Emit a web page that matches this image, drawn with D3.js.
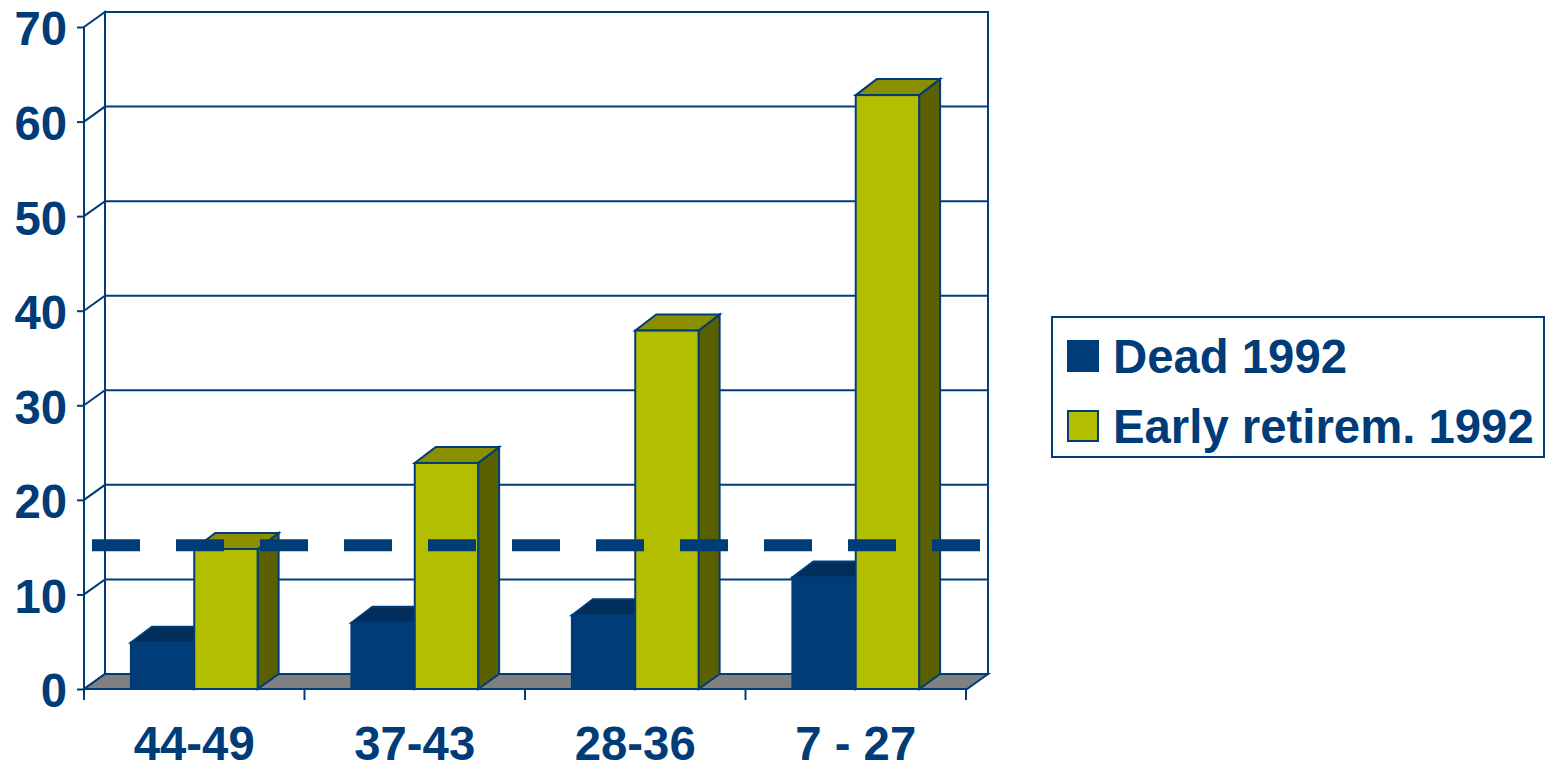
<!DOCTYPE html>
<html lang="en">
<head>
    <meta charset="UTF-8">
    <title>Dead and early retirement 1992</title>
    <script src="https://d3js.org/d3.v7.min.js"></script>
    <style>
        html, body { margin: 0; background: #fff; overflow: hidden; }
        svg { display: block; }
        text { font-family: "Liberation Sans", Arial, sans-serif; font-weight: bold; fill: #003c78; }
        .axis path, .axis line { stroke: #003c78; stroke-width: 2px; }
    </style>
</head>
<body>
    <svg></svg>
    <script>
        const categories = ["44-49", "37-43", "28-36", "7 - 27"];
        const seriesNames = ["Dead 1992", "Early retirem. 1992"];
        const dead = [4.9, 7.0, 7.8, 11.8];
        const early = [14.8, 23.9, 37.9, 62.8];
        const yTicks = [0, 10, 20, 30, 40, 50, 60, 70];
        const refValue = 15.2;

        const width = 1552, height = 765;
        const navy = "#003c78";
        const depthX = 21, depthY = 15, barDepthY = 16;
        const plotLeft = 84, plotRight = 966, plotBottom = 689, plotTop = 27;
        const fontSize = "47.3px";

        const svg = d3.select("svg").attr("width", width).attr("height", height);

        const x0 = d3.scaleBand().domain(categories).range([plotLeft, plotRight]);
        const x1 = d3.scaleBand().domain(seriesNames).range([0, x0.bandwidth()]).paddingInner(0).paddingOuter(0.74);
        const y = d3.scaleLinear().domain([0, 70]).range([plotBottom, plotTop]);

        // back wall and side wall
        svg.append("path")
            .attr("d", `M${plotLeft},${y(0)}L${plotLeft},${y(70)}L${plotLeft + depthX},${y(70) - depthY}L${plotLeft + depthX},${y(0) - depthY}Z`)
            .attr("fill", "#fff").attr("stroke", navy).attr("stroke-width", 2);
        svg.append("rect")
            .attr("x", plotLeft + depthX).attr("y", y(70) - depthY)
            .attr("width", plotRight - plotLeft + 1).attr("height", y(0) - y(70))
            .attr("fill", "#fff").attr("stroke", navy).attr("stroke-width", 2);

        // gridlines run along the side wall then the back wall
        svg.append("g").selectAll("path").data(yTicks.slice(1, -1)).join("path")
            .attr("d", d => `M${plotLeft},${y(d)}L${plotLeft + depthX},${y(d) - depthY}L${plotRight + depthX + 1},${y(d) - depthY}`)
            .attr("fill", "none").attr("stroke", navy).attr("stroke-width", 2);

        // floor
        svg.append("path")
            .attr("d", `M${plotLeft},${y(0)}L${plotLeft + depthX},${y(0) - depthY}L${plotRight + depthX + 1},${y(0) - depthY}L${plotRight + 1},${y(0)}Z`)
            .attr("fill", "#808080").attr("stroke", navy).attr("stroke-width", 2);

        // axes
        const yAxis = d3.axisLeft(y).tickValues(yTicks).tickSize(7).tickPadding(10);
        svg.append("g").attr("class", "axis").attr("transform", `translate(${plotLeft},0)`).call(yAxis)
            .call(g => g.select(".domain").attr("d", `M0,${y(70)}V${y(0)}`))
            .selectAll("text").style("font-size", fontSize).attr("dy", "0.38em");

        const xAxis = d3.axisBottom(x0).tickSize(0).tickPadding(37);
        const xg = svg.append("g").attr("class", "axis").attr("transform", `translate(0,${plotBottom})`).call(xAxis);
        xg.select(".domain").attr("d", `M${plotLeft},0H${plotRight}`);
        xg.selectAll("text").style("font-size", fontSize);
        xg.append("g").selectAll("line").data(categories.concat("end")).join("line")
            .attr("x1", d => d === "end" ? plotRight : x0(d))
            .attr("x2", d => d === "end" ? plotRight : x0(d))
            .attr("y1", 0).attr("y2", 11);

        // 3D bars, back to front
        const colors = [
            { front: navy, top: "#002d5a", side: "#002d5a" },
            { front: "#b4be00", top: "#8a8f00", side: "#5a5f00" }
        ];
        const barData = [];
        categories.forEach((c, i) => {
            barData.push({ cat: c, s: 0, v: dead[i] });
            barData.push({ cat: c, s: 1, v: early[i] });
        });
        const bars = svg.append("g").selectAll("g").data(barData).join("g");
        const bx = d => x0(d.cat) + x1(seriesNames[d.s]);
        const bw = x1.bandwidth();

        bars.append("path") // side
            .attr("d", d => `M${bx(d) + bw},${y(d.v)}l${depthX},${-barDepthY}V${y(0) - depthY}l${-depthX},${depthY}Z`)
            .attr("fill", d => colors[d.s].side).attr("stroke", navy).attr("stroke-width", 2);
        bars.append("path") // top
            .attr("d", d => `M${bx(d)},${y(d.v)}l${depthX},${-barDepthY}h${bw}l${-depthX},${barDepthY}Z`)
            .attr("fill", d => colors[d.s].top).attr("stroke", navy).attr("stroke-width", 2);
        bars.append("rect") // front
            .attr("x", bx).attr("y", d => y(d.v))
            .attr("width", bw).attr("height", d => y(0) - y(d.v))
            .attr("fill", d => colors[d.s].front).attr("stroke", navy).attr("stroke-width", 2);

        // dashed reference line
        svg.append("line")
            .attr("x1", 92).attr("x2", 980)
            .attr("y1", y(refValue)).attr("y2", y(refValue))
            .attr("stroke", navy).attr("stroke-width", 12)
            .attr("stroke-dasharray", "48 36");

        // legend
        const legend = svg.append("g");
        legend.append("rect")
            .attr("x", 1052).attr("y", 317).attr("width", 492).attr("height", 140)
            .attr("fill", "#fff").attr("stroke", navy).attr("stroke-width", 2);
        const items = legend.selectAll("g").data(seriesNames).join("g")
            .attr("transform", (d, i) => `translate(1067,${340 + i * 70})`);
        items.append("rect")
            .attr("x", 1).attr("y", 1).attr("width", 30).attr("height", 30)
            .attr("fill", (d, i) => colors[i].front).attr("stroke", navy).attr("stroke-width", 2);
        items.append("text")
            .attr("x", 46).attr("y", 33)
            .style("font-size", fontSize)
            .text(d => d);
    </script>
</body>
</html>
